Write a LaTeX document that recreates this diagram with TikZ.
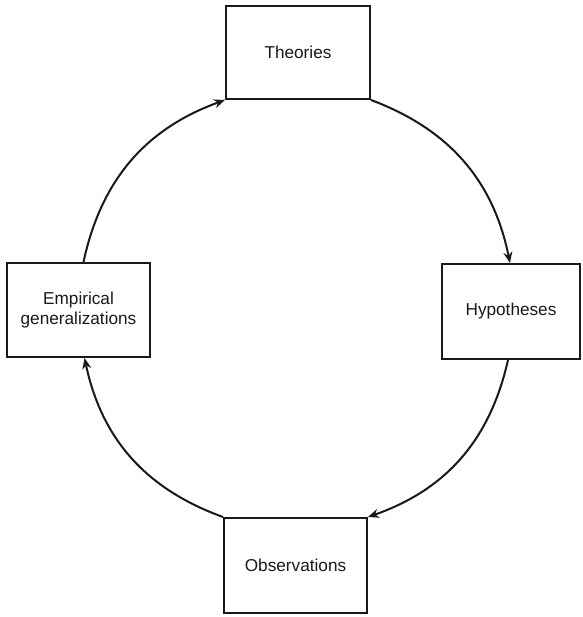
\documentclass[tikz,border=0pt]{standalone}
\usepackage{fontspec}
\setmainfont{Liberation Sans}
\usetikzlibrary{arrows.meta}
\begin{document}
\begin{tikzpicture}[x=1pt,y=-1pt,
  stage/.style={draw=black!90, line width=2pt, fill=white, inner sep=0pt,
    align=center, font=\fontsize{17.2}{20}\selectfont, text=black!90},
  cycle/.style={draw=black!90, line width=2pt,
    -{Stealth[length=11pt,width=9pt]}}]
  \useasboundingbox (0,0) rectangle (582,617);
  % the four stages of the research cycle
  \node[stage, minimum width=144pt, minimum height=93pt] (T) at (298,52.5) {Theories};
  \node[stage, minimum width=138pt, minimum height=95pt] (H) at (511,311.5) {Hypotheses};
  \node[stage, minimum width=143pt, minimum height=95pt] (O) at (295.5,565.5) {Observations};
  \node[stage, minimum width=143pt, minimum height=94pt] (E) at (78.5,310) {Empirical\\generalizations};
  % circular arrows between the stages, clockwise
  \draw[cycle] (T.south east) to[bend left=29] ([xshift=-1pt]H.north);
  \draw[cycle] ([xshift=-3pt]H.south) to[bend left=29] (O.north east);
  \draw[cycle] (O.north west) to[bend left=29] ([xshift=6pt]E.south);
  \draw[cycle] ([xshift=5pt]E.north) to[bend left=29] (T.south west);
\end{tikzpicture}
\end{document}
